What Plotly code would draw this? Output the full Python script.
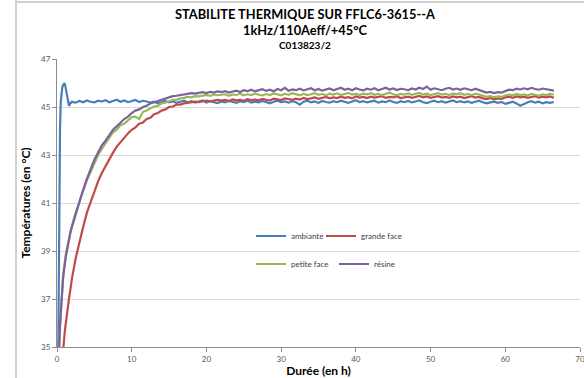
import plotly.graph_objects as go

# ---- sampling grid (hours): 0.1 h steps up to 1.9 h, then 0.5 h steps ----
hours = [round(0.1 * i, 1) for i in range(20)] + [round(2.0 + 0.5 * i, 1) for i in range(130)]

series_names = ["ambiante", "grande face", "petite face", "résine"]
series_colors = ["#4A7EBB", "#BE4B48", "#98B954", "#7D60A0"]

ambiante = [
    28.0, 33.0, 37.5, 41.5, 44.0, 45.2, 45.6, 45.8, 45.9, 46.0,
    46.0, 45.9, 45.7, 45.5, 45.3, 45.15, 45.05, 45.1, 45.2, 45.15,
    45.22, 45.18, 45.25, 45.2, 45.27, 45.22, 45.19, 45.26, 45.23, 45.28,
    45.2, 45.25, 45.3, 45.22, 45.27, 45.2, 45.24, 45.29, 45.21, 45.26,
    45.23, 45.18, 45.22, 45.15, 45.2, 45.25, 45.19, 45.23, 45.17, 45.22,
    45.26, 45.2, 45.24, 45.18, 45.22, 45.27, 45.19, 45.24, 45.2, 45.16,
    45.23, 45.19, 45.25, 45.21, 45.17, 45.24, 45.2, 45.26, 45.18, 45.22,
    45.19, 45.25, 45.21, 45.15, 45.22, 45.26, 45.2, 45.23, 45.18, 45.24,
    45.2, 45.1, 45.22, 45.26, 45.19, 45.23, 45.17, 45.25, 45.21, 45.18,
    45.24, 45.2, 45.26, 45.21, 45.17, 45.23, 45.28, 45.2, 45.24, 45.19,
    45.22, 45.26, 45.18, 45.23, 45.2, 45.27, 45.21, 45.17, 45.24, 45.2,
    45.25, 45.19, 45.23, 45.27, 45.2, 45.16, 45.22, 45.26, 45.2, 45.24,
    45.18, 45.22, 45.27, 45.2, 45.24, 45.19, 45.23, 45.17, 45.21, 45.26,
    45.2, 45.15, 45.19, 45.22, 45.17, 45.21, 45.13, 45.18, 45.22, 45.15,
    45.05, 45.12, 45.2, 45.24, 45.18, 45.22, 45.15, 45.2, 45.17, 45.21,
]

grande_face = [
    25.0, 27.0, 29.0, 30.5, 31.8, 32.8, 33.7, 34.4, 34.9, 35.2,
    35.5, 35.8, 36.1, 36.4, 36.6, 36.8, 37.0, 37.2, 37.45, 37.65,
    37.85, 38.7, 39.4, 40.0, 40.6, 41.05, 41.5, 41.9, 42.25, 42.55,
    42.85, 43.1, 43.35, 43.55, 43.7, 43.9, 44.05, 44.15, 44.3, 44.35,
    44.5, 44.55, 44.7, 44.75, 44.85, 44.9, 45.0, 45.02, 45.1, 45.1,
    45.15, 45.18, 45.2, 45.22, 45.2, 45.25, 45.27, 45.24, 45.28, 45.3,
    45.27, 45.3, 45.25, 45.32, 45.28, 45.3, 45.26, 45.33, 45.29, 45.31,
    45.28, 45.34, 45.3, 45.27, 45.35, 45.31, 45.29, 45.36, 45.32, 45.3,
    45.35, 45.31, 45.38, 45.33, 45.36, 45.4, 45.34, 45.38, 45.42, 45.36,
    45.4, 45.37, 45.43, 45.38, 45.41, 45.36, 45.44, 45.39, 45.42, 45.37,
    45.43, 45.39, 45.41, 45.45, 45.38, 45.42, 45.4, 45.44, 45.37, 45.41,
    45.43, 45.38, 45.42, 45.46, 45.4, 45.44, 45.38, 45.41, 45.45, 45.39,
    45.42, 45.38, 45.44, 45.4, 45.43, 45.37, 45.41, 45.45, 45.39, 45.42,
    45.36, 45.33, 45.38, 45.32, 45.36, 45.34, 45.4, 45.43, 45.38, 45.44,
    45.4, 45.43, 45.38, 45.42, 45.45, 45.39, 45.43, 45.4, 45.44, 45.38,
]

petite_face = [
    30.0, 32.0, 33.8, 35.0, 35.8, 36.5, 37.0, 37.5, 37.9, 38.2,
    38.5, 38.7, 38.9, 39.05, 39.2, 39.4, 39.55, 39.7, 39.85, 39.95,
    40.05, 40.6, 41.1, 41.5, 41.95, 42.3, 42.7, 43.0, 43.25, 43.5,
    43.7, 43.95, 44.05, 44.25, 44.3, 44.45, 44.58, 44.6, 44.5, 44.8,
    44.85, 44.95, 45.02, 45.05, 45.15, 45.18, 45.25, 45.3, 45.3, 45.36,
    45.38, 45.42, 45.4, 45.45, 45.44, 45.48, 45.5, 45.46, 45.52, 45.49,
    45.5, 45.53, 45.47, 45.52, 45.5, 45.55, 45.49, 45.53, 45.5, 45.56,
    45.51, 45.48, 45.54, 45.5, 45.57, 45.52, 45.49, 45.55, 45.51, 45.58,
    45.52, 45.49, 45.55, 45.5, 45.53, 45.58, 45.51, 45.54, 45.49, 45.56,
    45.52, 45.57, 45.5, 45.54, 45.59, 45.52, 45.55, 45.5, 45.56, 45.53,
    45.58, 45.51, 45.55, 45.5, 45.56, 45.6, 45.53, 45.49, 45.55, 45.52,
    45.57, 45.51, 45.55, 45.59, 45.52, 45.56, 45.5, 45.54, 45.58, 45.52,
    45.55, 45.5, 45.56, 45.53, 45.58, 45.51, 45.54, 45.5, 45.55, 45.52,
    45.47, 45.42, 45.45, 45.4, 45.44, 45.42, 45.48, 45.52, 45.49, 45.55,
    45.5, 45.53, 45.48, 45.55, 45.51, 45.47, 45.53, 45.5, 45.55, 45.51,
]

resine = [
    30.0, 32.2, 34.0, 35.1, 35.9, 36.5, 37.0, 37.4, 37.8, 38.1,
    38.4, 38.6, 38.8, 38.95, 39.15, 39.35, 39.5, 39.65, 39.8, 39.9,
    40.0, 40.6, 41.1, 41.55, 42.0, 42.4, 42.8, 43.1, 43.4, 43.6,
    43.85, 44.05, 44.2, 44.35, 44.5, 44.6, 44.75, 44.85, 44.9, 45.0,
    45.05, 45.15, 45.2, 45.25, 45.32, 45.35, 45.42, 45.45, 45.47, 45.5,
    45.52, 45.55, 45.58, 45.56, 45.6, 45.62, 45.58, 45.63, 45.6, 45.65,
    45.62, 45.66, 45.6, 45.65, 45.68, 45.62, 45.7, 45.66, 45.72, 45.65,
    45.69, 45.74, 45.67, 45.72, 45.66, 45.75, 45.7, 45.8, 45.68, 45.73,
    45.7, 45.76, 45.69, 45.74, 45.78, 45.7, 45.75, 45.68, 45.73, 45.77,
    45.7, 45.75, 45.8, 45.72, 45.76, 45.7, 45.78, 45.73, 45.69, 45.76,
    45.72, 45.78, 45.7, 45.75, 45.8, 45.73, 45.77, 45.71, 45.76, 45.74,
    45.7, 45.77, 45.73, 45.8, 45.75, 45.85, 45.72, 45.78, 45.74, 45.7,
    45.76, 45.8, 45.73, 45.77, 45.72, 45.78, 45.74, 45.7, 45.76, 45.72,
    45.65, 45.6, 45.63, 45.58, 45.62, 45.6, 45.66, 45.72, 45.7, 45.76,
    45.73, 45.78, 45.74, 45.8, 45.75, 45.72, 45.77, 45.73, 45.7, 45.68,
]

x_ticks = [0, 10, 20, 30, 40, 50, 60, 70]
y_ticks = [35, 37, 39, 41, 43, 45, 47]

title_lines = ["STABILITE THERMIQUE SUR FFLC6-3615--A", "1kHz/110Aeff/+45°C", "C013823/2"]

FONT = "Lato, 'Open Sans', sans-serif"
W, H = 584, 378
L, R, T, B = 57, 4, 59, 31

def px_x(p):
    return (p - L) / (W - L - R)

def px_y(p):
    return (H - B - p) / (H - B - T)

fig = go.Figure()
all_series = [ambiante, grande_face, petite_face, resine]
legend_ids = ["legend", "legend2", "legend3", "legend4"]
# left pixel edge / row centre of each legend entry
legend_pos = [(251, 236), (321, 236), (251, 264), (334, 264)]
for name, color, vals, lg in zip(series_names, series_colors, all_series, legend_ids):
    fig.add_trace(go.Scatter(
        x=hours, y=vals, mode="lines", name=name,
        line=dict(color=color, width=2.2), legend=lg,
    ))

axis_common = dict(
    showline=True, linecolor="#8C8C8C", linewidth=1,
    ticks="outside", ticklen=4, tickcolor="#8C8C8C",
    tickfont=dict(family=FONT, size=8, color="#595959"),
    zeroline=False, automargin=False, ticklabeloverflow="allow",
)

legend_layout = {}
for lg, (lx, ly) in zip(legend_ids, legend_pos):
    legend_layout[lg] = dict(
        orientation="h", x=px_x(lx), y=px_y(ly), xanchor="left", yanchor="middle",
        bgcolor="rgba(0,0,0,0)", font=dict(family=FONT, size=8, color="#404040"),
        itemwidth=30,
    )

fig.update_layout(
    width=W, height=H,
    margin=dict(l=L, r=R, t=T, b=B, pad=0, autoexpand=False),
    paper_bgcolor="white", plot_bgcolor="white",
    font=dict(family=FONT, color="#404040"),
    xaxis=dict(
        range=[0, 70], tickvals=x_ticks, showgrid=False,
        title=dict(text="<b>Durée (en h)</b>", font=dict(family=FONT, size=12, color="#000000"), standoff=1),
        **axis_common,
    ),
    yaxis=dict(
        range=[35, 47], tickvals=y_ticks, showgrid=True, gridcolor="#D9D9D9", gridwidth=1,
        title=dict(text="<b>Températures (en °C)</b>", font=dict(family=FONT, size=12, color="#000000"), standoff=7),
        **axis_common,
    ),
    showlegend=True,
    **legend_layout,
)

title_specs = [(title_lines[0], 12.8, 14), (title_lines[1], 12.8, 30), (title_lines[2], 10, 45)]
for txt, size, ypx in title_specs:
    fig.add_annotation(
        text=f"<b>{txt}</b>", x=px_x(305), y=px_y(ypx), xref="paper", yref="paper",
        xanchor="center", yanchor="middle", showarrow=False,
        font=dict(family=FONT, size=size, color="#000000"),
    )

# outer chart frame fragments visible in the screenshot
fig.add_shape(type="line", xref="paper", yref="paper", x0=px_x(16), x1=px_x(16), y0=px_y(0), y1=px_y(H),
              line=dict(color="#D0D0D0", width=2))
fig.add_shape(type="line", xref="paper", yref="paper", x0=px_x(16), x1=px_x(W), y0=px_y(2), y1=px_y(2),
              line=dict(color="#D0D0D0", width=2))

fig.write_html("out.html", config={"displayModeBar": False},
               post_script="document.body.style.margin='0px';")
